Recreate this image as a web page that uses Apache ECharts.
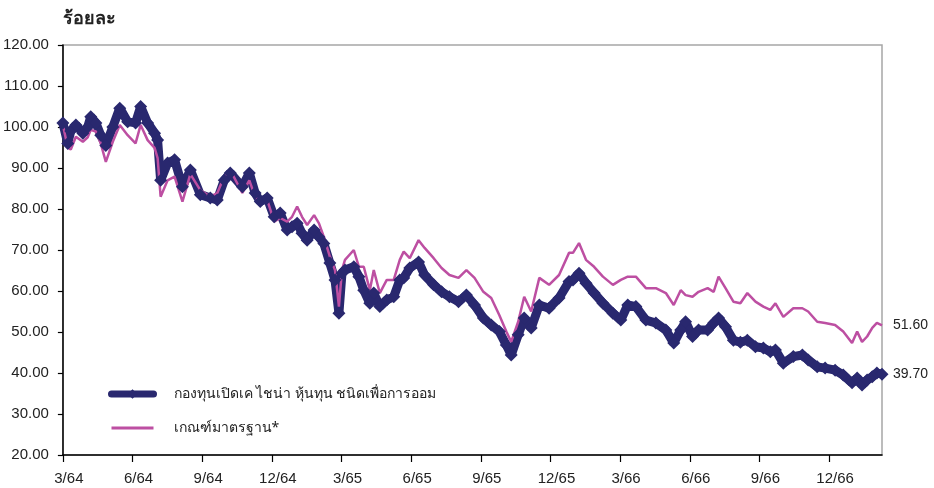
<!DOCTYPE html>
<html><head><meta charset="utf-8">
<script src="https://cdn.jsdelivr.net/npm/echarts@6/dist/echarts.min.js"></script>
<style>html,body{margin:0;padding:0;background:#fff}#c{width:934px;height:488px}</style>
</head><body><div id="c"></div>
<script>
// time in months since start of 3/64
const months = [0,0.21,0.34,0.56,0.86,1.07,1.20,1.42,1.63,1.85,2.15,2.45,2.79,3.13,3.35,3.65,3.95,4.08,4.21,4.51,4.81,5.15,5.49,5.92,6.35,6.65,6.95,7.21,7.73,8.03,8.28,8.50,8.80,9.10,9.36,9.66,9.87,10.09,10.30,10.52,10.82,11.03,11.24,11.50,11.72,11.89,12.02,12.15,12.53,12.75,12.96,13.22,13.39,13.65,13.95,14.25,14.51,14.68,14.94,15.32,15.58,15.97,16.31,16.65,17.04,17.38,17.73,18.11,18.45,18.80,19.10,19.31,19.61,19.87,20.17,20.52,20.94,21.37,21.80,21.97,22.23,22.53,22.88,23.26,23.69,24.03,24.33,24.68,25.11,25.54,25.97,26.31,26.61,26.82,27.12,27.38,27.77,28.03,28.24,28.54,28.88,29.18,29.48,29.83,30.17,30.47,30.69,31.03,31.46,31.85,32.10,32.49,32.83,33.26,33.61,33.99,34.21,34.42,34.64,34.86,35.06,35.28];
const fund = [101,96,99,100.5,98.5,100,102.5,101,98,95.5,100,104.6,101.3,101,105,101,98.5,96.8,87,91.2,92,85.4,89.5,83.5,82.7,82.2,87,88.8,85.4,88.8,83.9,81.8,82.7,78.1,79,74.9,75.7,76.5,74.1,72.4,74.9,73.2,71.6,66.8,62.7,54.6,64.3,65.1,65.9,63.5,60.2,57,59.5,56.2,57.8,58.6,62.7,63.2,65.6,67.1,63.9,61.5,59.8,58.6,57.4,59,56.6,53.4,51.7,50.1,46.8,44.4,49.3,53.4,51,56.6,55.8,58.3,62.3,62.7,64.3,61.9,59.5,57,54.6,52.9,56.6,56.2,52.9,52.2,50.5,47.3,50.5,52.5,48.9,50.5,50.5,52.2,53.4,51.3,48,47.5,48,46.4,46.1,45.2,45.6,42.4,44,44.4,43.2,41.5,41.2,40.7,39.5,37.6,38.8,37.1,38.3,39.1,40,39.7];
const bench = [100.5,95,94.5,97.6,96.4,97.5,99.3,98.9,96,91.5,96.4,100.5,98,96,100.5,96.8,94.9,92.4,83,87,87.9,81.8,88.5,84.6,83,83.9,87.9,89.5,83.9,87,83,81.4,82.2,76.9,77.8,76.9,78.1,80.6,78.1,76.1,78.5,76.5,73.2,68.4,65.1,56.2,65.1,67.6,70,65.9,65.9,60.2,65.1,59.5,62.7,62.7,67.6,69.6,68,72.4,70.5,68,65.6,63.9,63.2,65.1,63.2,59.8,58.3,54.1,50.1,47.6,52.5,58.6,55,63.2,61.5,63.9,69.3,69.3,71.7,67.6,65.9,63.5,61.5,62.7,63.5,63.5,60.7,60.7,59.5,56.6,60.2,59,58.6,59.8,60.7,59.8,63.5,60.7,57.4,57,59.5,57.4,56.2,55.4,57,53.7,55.8,55.8,55,52.5,52.2,51.7,50.1,47.3,50.1,47.6,48.9,51,52.2,51.6];
const tickLabels = ['3/64','6/64','9/64','12/64','3/65','6/65','9/65','12/65','3/66','6/66','9/66','12/66'];
const fundName = 'กองทุนเปิดเค ไชน่า หุ้นทุน ชนิดเพื่อการออม';
const benchName = 'เกณฑ์มาตรฐาน*';

const numFont = "'Liberation Sans Narrow','Liberation Sans',Arial,sans-serif";
const fundPts = months.map((m,i)=>[m,fund[i]]);
const benchPts = months.map((m,i)=>[m,bench[i]]);

const chart = echarts.init(document.getElementById('c'), null, {renderer:'canvas'});
chart.setOption({
  animation:false,
  backgroundColor:'#fff',
  title:{text:'ร้อยละ',left:58,top:5,textStyle:{fontSize:18,fontWeight:'bold',color:'#222',fontFamily:"'Noto Sans','DejaVu Sans',sans-serif"}},
  grid:{left:60,right:52,top:45,bottom:33,show:true,borderColor:'#a6a6a6',borderWidth:1.5},
  legend:{
    orient:'vertical',left:108,top:387,padding:0,itemWidth:42,itemHeight:12,itemGap:20,
    textStyle:{fontSize:14,color:'#222',padding:[0,0,0,15],fontFamily:"'Noto Sans','DejaVu Sans',sans-serif"},
    data:[
      {name:fundName,lineStyle:{width:7,cap:'round'},itemStyle:{opacity:1}},
      {name:benchName,lineStyle:{width:3},itemStyle:{opacity:0}}
    ]
  },
  xAxis:{
    type:'value',min:0,max:35.28,interval:3,
    axisLine:{lineStyle:{color:'#000',width:1.5}},
    axisTick:{length:7,lineStyle:{color:'#000',width:1.2}},
    splitLine:{show:false},
    axisLabel:{margin:16,fontSize:15,color:'#222',fontFamily:numFont,padding:[0,0,0,12],
      showMaxLabel:false,
      formatter:v=>{const k=Math.round(v/3);return Math.abs(v-k*3)<1e-6&&tickLabels[k]?tickLabels[k]:'';}}
  },
  yAxis:{
    type:'value',min:20,max:120,interval:10,
    axisLine:{show:true,lineStyle:{color:'#000',width:1.5}},
    axisTick:{show:true,length:5,lineStyle:{color:'#000',width:1.2}},
    splitLine:{show:false},
    axisLabel:{margin:14,fontSize:15,color:'#222',fontFamily:numFont,formatter:v=>v.toFixed(2)}
  },
  series:[
    {name:fundName,type:'line',data:fundPts,color:'#29286f',
     symbol:'diamond',symbolSize:13,showSymbol:true,showAllSymbol:true,
     lineStyle:{width:9,color:'#29286f'},itemStyle:{color:'#29286f'},
     endLabel:{show:true,distance:11,fontSize:14,color:'#222',fontFamily:"'Liberation Sans',Arial,sans-serif",
       formatter:p=>p.value[1].toFixed(2)}},
    {name:benchName,type:'line',data:benchPts,color:'#bd4fa2',
     symbol:'none',showSymbol:false,
     lineStyle:{width:2.5,color:'#bd4fa2'},
     endLabel:{show:true,distance:11,fontSize:14,color:'#222',fontFamily:"'Liberation Sans',Arial,sans-serif",
       formatter:p=>p.value[1].toFixed(2)}}
  ]
});
</script></body></html>
